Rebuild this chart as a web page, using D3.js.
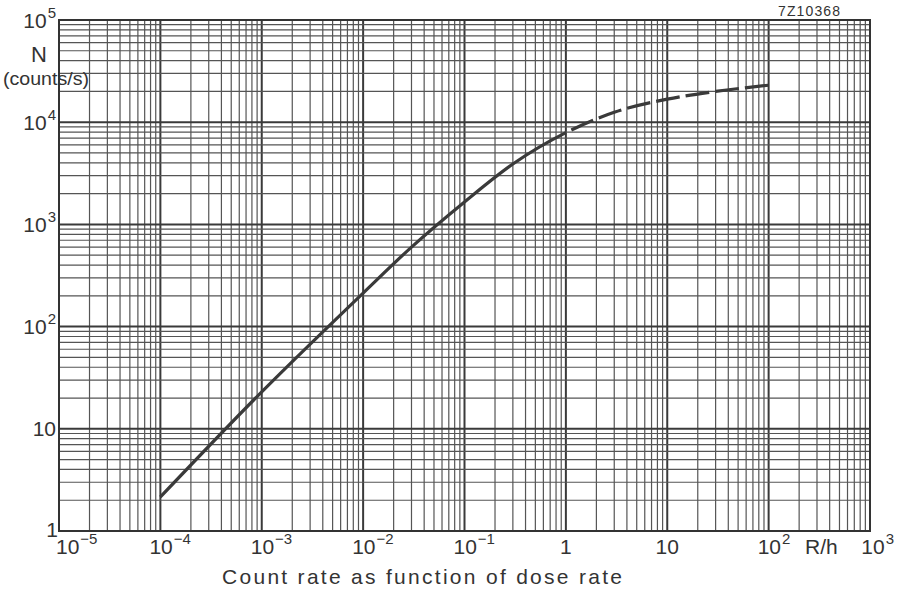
<!DOCTYPE html>
<html>
<head>
<meta charset="utf-8">
<script src="https://cdn.jsdelivr.net/npm/d3@7/dist/d3.min.js"></script>
<style>
  html, body { margin: 0; padding: 0; background: #fff; }
  svg { display: block; }
  text { font-family: "Liberation Sans", Arial, sans-serif; fill: #333; }
</style>
</head>
<body>
<svg id="chart" width="898" height="591"></svg>
<script>
// Dose rate (R/h) and detector count rate N (counts/s)
const doseRate  = [1e-4, 1e-3, 1e-2, 3e-2, 1e-1, 3e-1, 1, 3, 10, 30, 100];
const countRate = [2.15, 23, 213, 600, 1660, 3900, 7900, 12500, 16800, 20000, 23000];
// Above this dose rate the curve is drawn dashed
const dashedFrom = 1;

// Axis decades and their labels (base + exponent)
const xDecades  = [1e-5, 1e-4, 1e-3, 1e-2, 1e-1, 1, 10, 100, 1000];
const xTickBase = ["10", "10", "10", "10", "10", "1", "10", "10", "10"];
const xTickExp  = ["\u22125", "\u22124", "\u22123", "\u22122", "\u22121", "", "", "2", "3"];
const yDecades  = [1, 10, 100, 1000, 1e4, 1e5];
const yTickBase = ["1", "10", "10", "10", "10", "10"];
const yTickExp  = ["", "", "2", "3", "4", "5"];

const xUnit = "R/h";
const yName = "N";
const yUnit = "(counts/s)";
const title = "Count rate as function of dose rate";
const code  = "7Z10368";

const svg = d3.select("#chart");
const plotL = 59, plotR = 870, plotT = 20, plotB = 531;

const x = d3.scaleLog().domain([1e-5, 1e3]).range([plotL, plotR]);
const y = d3.scaleLog().domain([1, 1e5]).range([plotB, plotT]);

// Log grid: every 1..9 multiple of each decade
const gridVals = (decades) => {
  const out = [];
  decades.slice(0, -1).forEach(d => {
    for (let k = 1; k <= 9; k++) out.push({ v: k * d, major: k === 1 });
  });
  out.push({ v: decades[decades.length - 1], major: true });
  return out;
};

const grid = svg.append("g");
grid.selectAll("line.v").data(gridVals(xDecades)).join("line")
  .attr("x1", d => x(d.v)).attr("x2", d => x(d.v))
  .attr("y1", plotT).attr("y2", plotB)
  .attr("stroke", d => d.major ? "#3a3a3a" : "#555")
  .attr("stroke-width", d => d.major ? 2 : 1.2);
grid.selectAll("line.h").data(gridVals(yDecades)).join("line")
  .attr("y1", d => y(d.v)).attr("y2", d => y(d.v))
  .attr("x1", plotL).attr("x2", plotR)
  .attr("stroke", d => d.major ? "#3a3a3a" : "#555")
  .attr("stroke-width", d => d.major ? 2 : 1.2);

svg.append("rect")
  .attr("x", plotL).attr("y", plotT)
  .attr("width", plotR - plotL).attr("height", plotB - plotT)
  .attr("fill", "none").attr("stroke", "#333").attr("stroke-width", 2);

// Curve: solid up to dashedFrom, dashed beyond
const pts = doseRate.map((d, i) => [d, countRate[i]]);
const line = d3.line().x(d => x(d[0])).y(d => y(d[1])).curve(d3.curveMonotoneX);
const path = svg.append("path")
  .attr("d", line(pts))
  .attr("fill", "none")
  .attr("stroke", "#3a3a3a")
  .attr("stroke-width", 3.2)
  .attr("stroke-linecap", "butt");

const node = path.node();
const total = node.getTotalLength();
const xSwitch = x(dashedFrom);
let lo = 0, hi = total;
for (let i = 0; i < 40; i++) {
  const mid = (lo + hi) / 2;
  if (node.getPointAtLength(mid).x < xSwitch) lo = mid; else hi = mid;
}
// fit a whole number of gap+dash periods so the curve ends on a dash
const gap = 6;
const rest = total - lo;
const nDash = Math.max(1, Math.round(rest / 29));
const dashLen = rest / nDash - gap;
const dashes = [lo];
for (let i = 0; i < nDash; i++) dashes.push(gap, dashLen);
dashes.push(0, 100);
path.attr("stroke-dasharray", dashes.join(" "));

// X tick labels
const xl = svg.append("g");
xDecades.forEach((d, i) => {
  const last = i === xDecades.length - 1, first = i === 0;
  const t = xl.append("text")
    .attr("y", 554)
    .attr("font-size", 21);
  if (last) t.attr("x", 894).attr("text-anchor", "end");
  else if (first) t.attr("x", x(d) - 3).attr("text-anchor", "start");
  else if (xTickExp[i]) t.attr("x", x(d) - 11).attr("text-anchor", "start");
  else t.attr("x", x(d)).attr("text-anchor", "middle");
  t.append("tspan").text(xTickBase[i]);
  if (xTickExp[i]) t.append("tspan").attr("dy", -10).attr("dx", 1).attr("font-size", 15).text(xTickExp[i]);
});
svg.append("text").attr("x", 805).attr("y", 554).attr("font-size", 21).text(xUnit);

// Y tick labels
const yl = svg.append("g");
yDecades.forEach((d, i) => {
  const t = yl.append("text")
    .attr("x", i === 0 ? 58 : 56)
    .attr("y", y(d) + (i === 0 ? 6 : 7.5))
    .attr("text-anchor", "end")
    .attr("font-size", 21);
  t.append("tspan").text(yTickBase[i]);
  if (yTickExp[i]) t.append("tspan").attr("dy", -10).attr("dx", 1).attr("font-size", 15).text(yTickExp[i]);
});
svg.append("text").attr("x", 39).attr("y", 62).attr("text-anchor", "middle")
  .attr("font-size", 22).text(yName);
svg.append("text").attr("x", 3).attr("y", 85).attr("font-size", 19)
  .attr("textLength", 86).attr("lengthAdjust", "spacingAndGlyphs").text(yUnit);

// Title and drawing code
svg.append("text").attr("x", 222).attr("y", 584).attr("font-size", 21)
  .attr("textLength", 400).attr("lengthAdjust", "spacing").text(title);
svg.append("text").attr("x", 778).attr("y", 16).attr("font-size", 14)
  .attr("textLength", 62).attr("lengthAdjust", "spacing").text(code);
</script>
</body>
</html>
